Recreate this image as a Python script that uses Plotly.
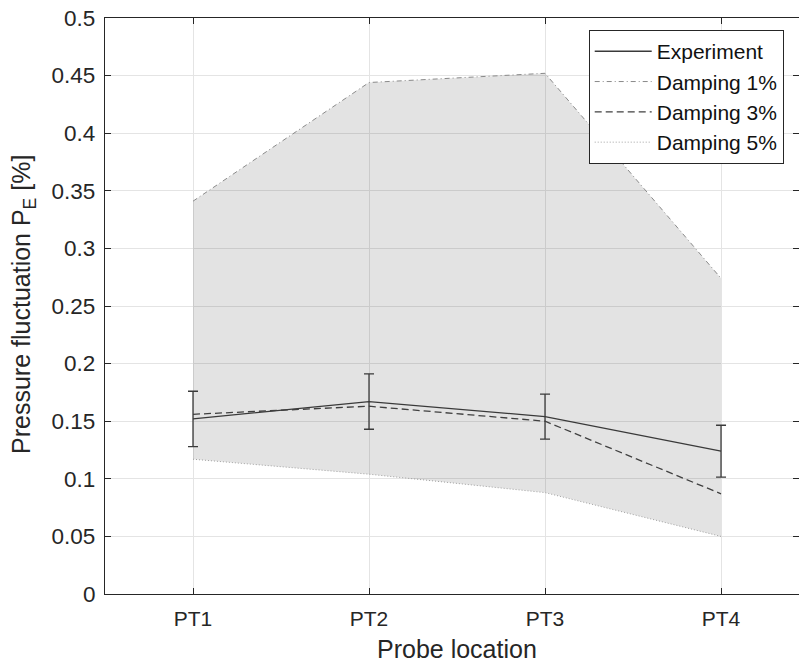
import plotly.graph_objects as go

categories = ["PT1", "PT2", "PT3", "PT4"]
experiment = [0.152, 0.167, 0.154, 0.124]
exp_err = [0.024, 0.024, 0.0195, 0.0225]
damping1 = [0.341, 0.444, 0.452, 0.274]
damping3 = [0.156, 0.163, 0.150, 0.087]
damping5 = [0.117, 0.104, 0.088, 0.050]
yticks = [0, 0.05, 0.1, 0.15, 0.2, 0.25, 0.3, 0.35, 0.4, 0.45, 0.5]

FONT = "Liberation Sans, Arial, sans-serif"
AX = "#262626"

fig = go.Figure()

# shaded band between damping 1% and 5%
fig.add_trace(go.Scatter(
    x=categories + categories[::-1],
    y=damping1 + damping5[::-1],
    fill="toself", fillcolor="rgba(0,0,0,0.11)",
    line=dict(width=0), mode="lines",
    showlegend=False, hoverinfo="skip"))

fig.add_trace(go.Scatter(
    x=categories, y=experiment, name="Experiment", mode="lines",
    line=dict(color="#3a3a3a", width=1.3),
    error_y=dict(type="data", array=exp_err, visible=True,
                 color="#3a3a3a", thickness=1.3, width=5)))
fig.add_trace(go.Scatter(
    x=categories, y=damping1, name="Damping 1%", mode="lines",
    line=dict(color="#8a8a8a", width=1, dash="5px,3px,1px,3px")))
fig.add_trace(go.Scatter(
    x=categories, y=damping3, name="Damping 3%", mode="lines",
    line=dict(color="#404040", width=1.3, dash="7px,4px")))
fig.add_trace(go.Scatter(
    x=categories, y=damping5, name="Damping 5%", mode="lines",
    line=dict(color="#a0a0a0", width=1, dash="1px,2px")))

fig.update_layout(
    width=799, height=666,
    margin=dict(l=105, r=0, t=18, b=72),
    paper_bgcolor="white", plot_bgcolor="white",
    font=dict(family=FONT, size=21, color=AX),
    showlegend=True,
    legend=dict(x=0.697, y=0.979, xanchor="left", yanchor="top",
                bgcolor="white", bordercolor=AX, borderwidth=1,
                font=dict(size=21, color="#111"),
                tracegroupgap=0, itemwidth=57),
    annotations=[
        dict(text="Probe location", xref="paper", yref="paper",
             x=0.507, y=-0.0955, xanchor="center", yanchor="middle",
             showarrow=False, font=dict(size=25, color=AX)),
        dict(text="Pressure fluctuation P<sub>E</sub> [%]", xref="paper", yref="paper",
             x=-0.118, y=0.502, xanchor="center", yanchor="middle", textangle=-90,
             showarrow=False, font=dict(size=25, color=AX)),
    ],
)
fig.update_xaxes(
    type="category", categoryorder="array", categoryarray=categories,
    range=[-0.5, 3.443],
    showline=True, linecolor=AX, linewidth=1.2, mirror="ticks",
    ticks="inside", ticklen=6, tickcolor=AX, ticklabelstandoff=6,
    tickfont=dict(size=21),
    showgrid=True, gridcolor="#e4e4e4", gridwidth=1,
    zeroline=False,
)
fig.update_yaxes(
    range=[0, 0.5], tickvals=yticks,
    ticktext=[f"{v:g}" for v in yticks],
    showline=True, linecolor=AX, linewidth=1.2, mirror="ticks",
    ticks="inside", ticklen=6, tickcolor=AX, ticklabelstandoff=4,
    tickfont=dict(size=22.5),
    showgrid=True, gridcolor="#e4e4e4", gridwidth=1,
    zeroline=False,
)

fig.write_html("out.html")
